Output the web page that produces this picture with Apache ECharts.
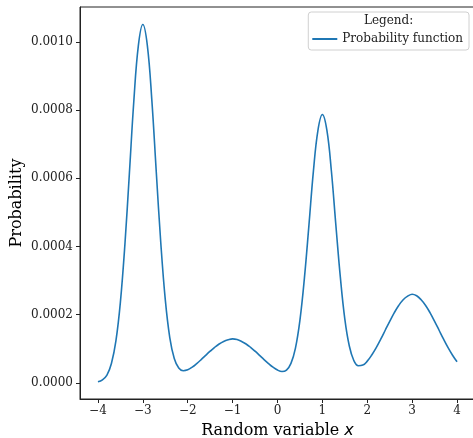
<!DOCTYPE html>
<html>
<head>
    <meta charset="utf-8">
    <title>Probability function</title>
    <script src="https://cdn.jsdelivr.net/npm/echarts@6/dist/echarts.min.js"></script>
    <style>
        html, body { margin: 0; padding: 0; background: #fff; }
        #main { width: 473px; height: 438px; }
    </style>
</head>
<body>
<div id="main"></div>
<script>
    // x positions of the curve samples
    var xs = [-4.0, -3.9, -3.8, -3.7, -3.6, -3.5, -3.4, -3.3, -3.2, -3.1,
        -3.0, -2.9, -2.8, -2.7, -2.6, -2.5, -2.4, -2.3, -2.2, -2.1,
        -2.0, -1.9, -1.8, -1.7, -1.6, -1.5, -1.4, -1.3, -1.2, -1.1,
        -1.0, -0.9, -0.8, -0.7, -0.6, -0.5, -0.4, -0.3, -0.2, -0.1,
        0.0, 0.1, 0.2, 0.3, 0.4, 0.5, 0.6, 0.7, 0.8, 0.9,
        1.0, 1.1, 1.2, 1.3, 1.4, 1.5, 1.6, 1.7, 1.8, 1.9,
        2.0, 2.1, 2.2, 2.3, 2.4, 2.5, 2.6, 2.7, 2.8, 2.9,
        3.0, 3.1, 3.2, 3.3, 3.4, 3.5, 3.6, 3.7, 3.8, 3.9, 4.0];

    // probability
    var probs = [0.0000030, 0.0000090, 0.0000230, 0.0000570, 0.0001230, 0.0002370, 0.0004050, 0.0006140, 0.0008280, 0.0009890,
        0.0010510, 0.0009900, 0.0008300, 0.0006170, 0.0004100, 0.0002440, 0.0001330, 0.0000715, 0.0000435, 0.0000356,
        0.0000382, 0.0000461, 0.0000566, 0.0000683, 0.0000807, 0.0000929, 0.0001043, 0.0001141, 0.0001216, 0.0001264,
        0.0001290, 0.0001270, 0.0001216, 0.0001141, 0.0001043, 0.0000929, 0.0000807, 0.0000683, 0.0000566, 0.0000459,
        0.0000375, 0.0000334, 0.0000376, 0.0000572, 0.0001020, 0.0001840, 0.0003080, 0.0004620, 0.0006210, 0.0007400,
        0.0007870, 0.0007410, 0.0006220, 0.0004630, 0.0003100, 0.0001870, 0.0001080, 0.0000656, 0.0000504, 0.0000521,
        0.0000638, 0.0000817, 0.0001034, 0.0001281, 0.0001543, 0.0001805, 0.0002053, 0.0002269, 0.0002437, 0.0002543,
        0.0002600, 0.0002555, 0.0002437, 0.0002269, 0.0002053, 0.0001805, 0.0001543, 0.0001281, 0.0001034, 0.0000811, 0.0000618];

    var xTicks = [-4, -3, -2, -1, 0, 1, 2, 3, 4];
    var yTicks = [0, 0.0002, 0.0004, 0.0006, 0.0008, 0.0010];

    var font = 'DejaVu Serif';
    var pts = [];
    for (var i = 0; i < xs.length; i++) {
        pts.push([xs[i], probs[i]]);
    }

    var myChart = echarts.init(document.getElementById('main'), null, {renderer: 'canvas'});

    var option = {
        animation: false,
        backgroundColor: '#fff',
        textStyle: {fontFamily: font},
        grid: {
            left: 80,
            top: 7,
            width: 395,
            height: 392,
            outerBoundsMode: 'none',
            containLabel: false,
            show: true,
            borderColor: '#222',
            borderWidth: 1,
            backgroundColor: 'transparent'
        },
        legend: {
            right: 4,
            top: 12,
            padding: [21, 6, 5, 4],
            itemWidth: 25,
            itemHeight: 2,
            backgroundColor: 'rgba(255,255,255,0.8)',
            borderColor: '#d0d0d0',
            borderWidth: 1,
            borderRadius: 3,
            textStyle: {fontFamily: font, fontSize: 12, color: '#222', padding: [6, 0, 5, 0]},
            data: [{name: 'Probability function', icon: 'rect'}]
        },
        graphic: [{
            type: 'text',
            left: 364,
            top: 15,
            z: 100,
            style: {text: 'Legend:', font: '12px "DejaVu Serif"', fill: '#222'}
        }],
        xAxis: {
            type: 'value',
            min: -4.4,
            max: 4.4,
            name: 'Random variable {i|x}',
            nameLocation: 'middle',
            nameGap: 24,
            nameMoveOverlap: false,
            nameTextStyle: {
                fontFamily: font, fontSize: 16, color: '#000',
                rich: {i: {fontFamily: 'DejaVu Sans', fontStyle: 'italic', fontSize: 16}}
            },
            axisLine: {onZero: false, lineStyle: {color: '#222', width: 1}},
            axisTick: {customValues: xTicks, length: 4, lineStyle: {color: '#222'}},
            axisLabel: {
                customValues: xTicks,
                margin: 6,
                fontFamily: font,
                fontSize: 12,
                color: '#222',
                formatter: function (v) { return String(v).replace('-', '\u2212'); }
            },
            splitLine: {show: false}
        },
        yAxis: {
            type: 'value',
            min: -0.0000473,
            max: 0.0011023,
            name: 'Probability',
            nameLocation: 'middle',
            nameGap: 55,
            nameMoveOverlap: false,
            nameTextStyle: {fontFamily: font, fontSize: 16, color: '#000'},
            axisLine: {show: true, onZero: false, lineStyle: {color: '#222', width: 1}},
            axisTick: {show: true, customValues: yTicks, length: 4, lineStyle: {color: '#222'}},
            axisLabel: {
                customValues: yTicks,
                margin: 7,
                fontFamily: font,
                fontSize: 12,
                color: '#222',
                formatter: function (v) { return v.toFixed(4); }
            },
            splitLine: {show: false}
        },
        series: [{
            name: 'Probability function',
            type: 'line',
            data: pts,
            symbol: 'none',
            smooth: 0.4,
            lineStyle: {color: '#1f77b4', width: 1.6},
            itemStyle: {color: '#1f77b4'}
        }]
    };

    myChart.setOption(option);
</script>
</body>
</html>
